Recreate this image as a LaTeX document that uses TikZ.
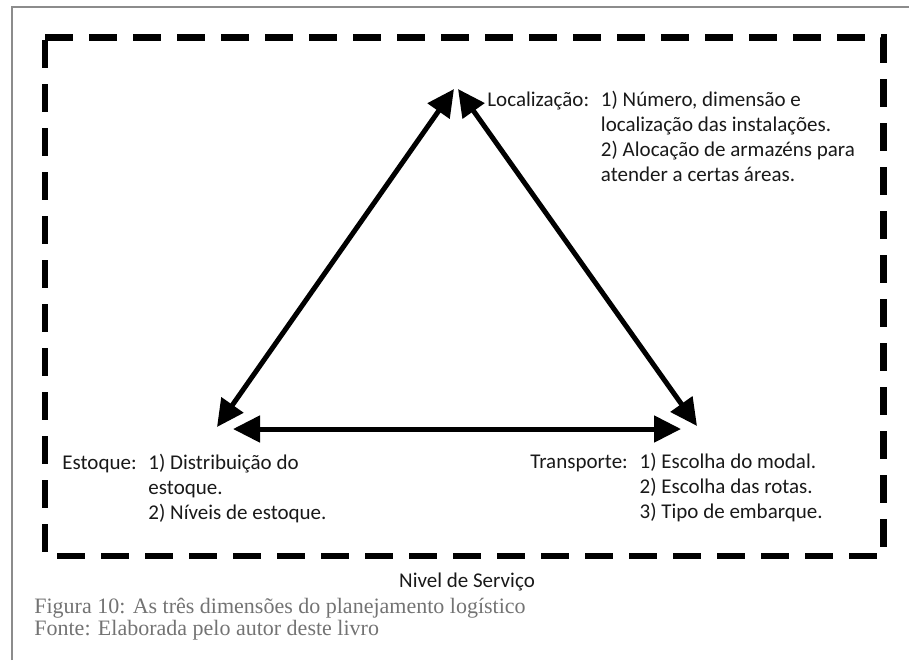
\documentclass[tikz,border=0pt]{standalone}
\usepackage{fontspec}
\setmainfont{Liberation Serif}
\newfontfamily\diagfont{Carlito}
\usetikzlibrary{arrows.meta,positioning}

\newcommand{\dimlist}[1]{\begin{tabular}[t]{@{}l@{}}#1\end{tabular}}

\tikzset{
  dimlabel/.style={inner sep=0pt,anchor=base west,text=black!90,
    font=\diagfont\fontsize{10.5}{12.5}\selectfont},
  dimlink/.style={line width=2.5pt,
    {Triangle[length=13.5pt,width=13pt]}-{Triangle[length=13.5pt,width=13pt]}},
  levelbox/.style={line width=3.25pt,dash pattern=on 14pt off 8pt},
  captext/.style={inner sep=0pt,anchor=base west,text=black!55,
    font=\fontsize{11}{11}\selectfont,align=left}
}

\begin{document}
\begin{tikzpicture}[x=0.5pt,y=-0.5pt]
  \useasboundingbox (0,0) rectangle (909,660);
  % page frame
  \draw[black!45,line width=1pt] (12,660) -- (12,7) -- (909,7);
  % service level box
  \draw[levelbox] (45,37.5) -- (883.5,37.5) -- (883.5,556) -- (45,556) -- cycle;
  \foreach \x/\y/\n in {454/89/Loc-1,458/89/Loc-2,217/427/Est-1,233/429/Est-2,681/429/Tra-1,697/426/Tra-2}{% arrow tips
    \coordinate (\n) at (\x,\y);
  }
  \draw[dimlink] (Est-1) -- (Loc-1);
  \draw[dimlink] (Loc-2) -- (Tra-2);
  \draw[dimlink] (Est-2) -- (Tra-1);
  %% Labels of the three dimensions
  \node[dimlabel] (loc) at (487,106) {Localização:};
  \node[dimlabel] (loc-items) at ([xshift=5.5pt]loc.base east) {\dimlist{1) Número, dimensão e\\localização das instalações.\\2) Alocação de armazéns para\\atender a certas áreas.}};
  \node[dimlabel] (est) at (62,469) {Estoque:};
  \node[dimlabel] (est-items) at ([xshift=5.5pt]est.base east) {\dimlist{1) Distribuição do\\estoque.\\2) Níveis de estoque.}};
  \node[dimlabel] (tra) at (530,468) {Transporte:};
  \node[dimlabel] (tra-items) at ([xshift=5.5pt]tra.base east) {\dimlist{1) Escolha do modal.\\2) Escolha das rotas.\\3) Tipo de embarque.}};
  \node[dimlabel,anchor=base] (level) at (467,587) {Nivel de Serviço};
  %% Caption (base = last line)
  \node[captext] (caption) at (34,635) {Figura 10: As três dimensões do planejamento logístico\\Fonte: Elaborada pelo autor deste livro};
\end{tikzpicture}
\end{document}
